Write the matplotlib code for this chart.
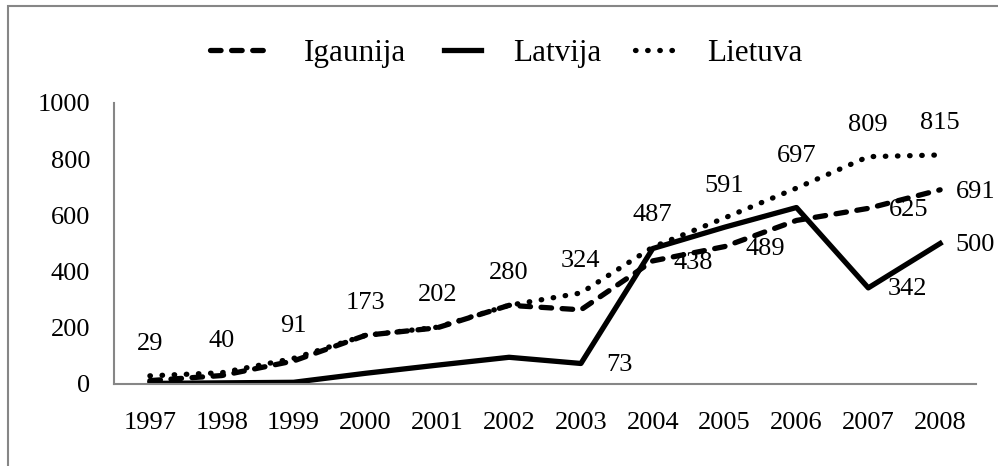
import matplotlib.pyplot as plt
from matplotlib.legend_handler import HandlerLine2D
from matplotlib.patches import Rectangle

years = ["1997", "1998", "1999", "2000", "2001", "2002",
         "2003", "2004", "2005", "2006", "2007", "2008"]
igaunija = [12, 30, 82, 173, 200, 280, 264, 438, 489, 582, 625, 691]
latvija = [2, 4, 6, 38, 67, 95, 73, 482, 558, 628, 342, 500]
lietuva = [29, 40, 91, 173, 202, 280, 324, 487, 591, 697, 809, 815]

# only these points carry a visible label in the source chart
igaunija_labelled = ["2004", "2005", "2007", "2008"]
latvija_labelled = ["2003", "2007", "2008"]

plt.rcParams["font.family"] = ["Liberation Serif", "DejaVu Serif"]
FS = 19
LW = 3.8


class ShortLine(HandlerLine2D):
    """Legend line drawn over only the right part of the handle box."""

    def __init__(self, frac, **kw):
        super().__init__(**kw)
        self.frac = frac

    def create_artists(self, legend, orig_handle, xdescent, ydescent,
                       width, height, fontsize, trans):
        w = width * self.frac
        return super().create_artists(legend, orig_handle, xdescent - (width - w),
                                      ydescent, w, height, fontsize, trans)


fig = plt.figure(figsize=(9.98, 4.66), dpi=100)
ax = fig.add_axes([0.1142, 0.176, 0.8638, 0.603])
x = range(len(years))

l_ig, = ax.plot(x, igaunija, color="black", lw=LW, ls=(0, (2.0, 2.0)),
                dash_capstyle="round", label="Igaunija")
l_lv, = ax.plot(x, latvija, color="black", lw=LW, label="Latvija")
l_lt, = ax.plot(x, lietuva, color="black", lw=LW, ls=(0, (0.1, 2.2)),
                dash_capstyle="round", label="Lietuva")

for i, v in enumerate(lietuva):
    ax.annotate(str(v), (i, v), xytext=(0, 23), textcoords="offset points",
                ha="center", va="center", fontsize=FS)
# right-hand labels sit a bit closer on the last category so they stay inside
for i, (yr, v) in enumerate(zip(years, igaunija)):
    if yr in igaunija_labelled:
        dx = 25.5 if yr == years[-1] else 29
        ax.annotate(str(v), (i, v), xytext=(dx, -1.5), textcoords="offset points",
                    ha="center", va="center", fontsize=FS)
for i, (yr, v) in enumerate(zip(years, latvija)):
    if yr in latvija_labelled:
        dx = 25.5 if yr == years[-1] else 28
        ax.annotate(str(v), (i, v), xytext=(dx, -1), textcoords="offset points",
                    ha="center", va="center", fontsize=FS)

ax.set_xlim(-0.5, len(years) - 0.5)
ax.set_ylim(0, 1000)
ax.set_yticks(range(0, 1001, 200))
ax.set_xticks(list(x))
ax.set_xticklabels(years)
ax.tick_params(length=0, labelsize=FS)
ax.tick_params(axis="x", pad=20)
ax.tick_params(axis="y", pad=17)
for side in ("top", "right"):
    ax.spines[side].set_visible(False)
for side in ("left", "bottom"):
    ax.spines[side].set_color("#868686")
    ax.spines[side].set_linewidth(1.5)

fig.legend(handles=[l_ig, l_lv, l_lt], loc="center", bbox_to_anchor=(0.5075, 0.886),
           ncol=3, frameon=False, fontsize=22.5, handlelength=2.0,
           handletextpad=1.0, columnspacing=0.4,
           handler_map={l_lv: ShortLine(0.6), l_lt: ShortLine(0.65)})

# outer chart-area frame, only its top and left edges fall inside the image
fig.patches.append(Rectangle((0.008, -0.5), 2, 1.487, transform=fig.transFigure,
                             fill=False, edgecolor="#868686", lw=1.5))

fig.savefig("out.png", dpi=100)
